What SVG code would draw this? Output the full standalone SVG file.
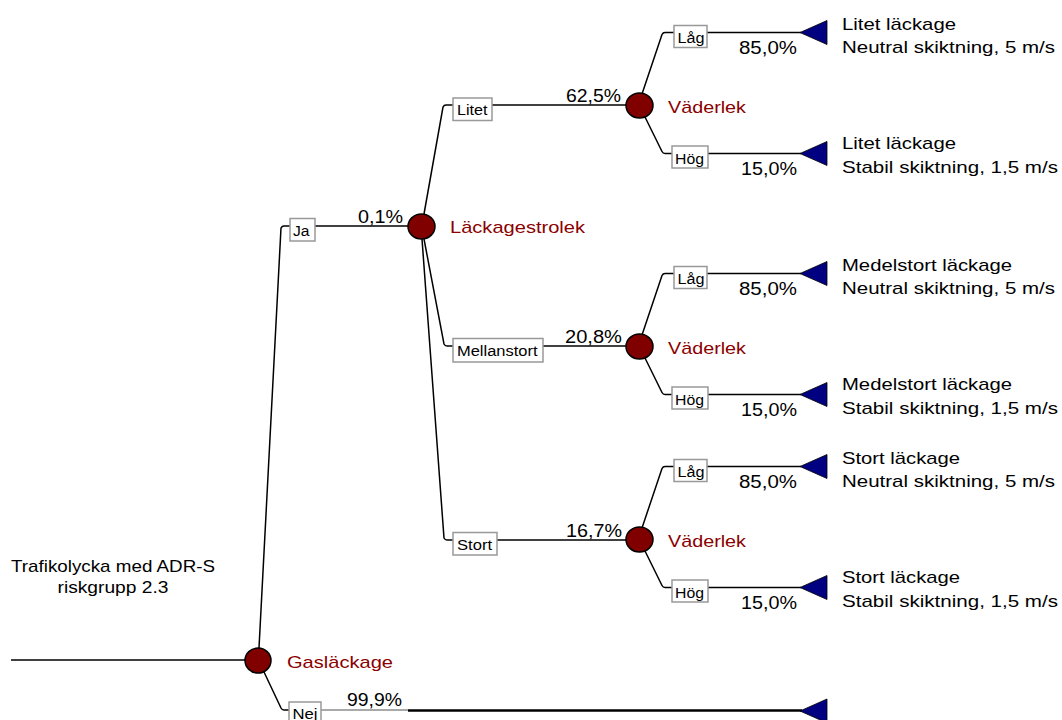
<svg xmlns="http://www.w3.org/2000/svg" width="1062" height="720" viewBox="0 0 1062 720">
<style>
.ln{fill:none;stroke:#000;stroke-width:1.5}
.box{fill:#fff;stroke:#999;stroke-width:1.5}
.ch{fill:#800000;stroke:#000;stroke-width:1.5}
.tri{fill:#000080;stroke:#000;stroke-width:0.8}
text{font-family:"Liberation Sans",Arial,sans-serif;fill:#000}
.bl{font-size:15.5px}
.pc{font-size:18px}
.nl{font-size:17px;fill:#8B0000}
.el{font-size:17px}
</style>
<rect width="1062" height="720" fill="#fff"/>
<defs>
<polygon id="tri" points="0,0 27,-12 27,12" class="tri"/>
</defs>
<g id="connectors">
<line class="ln" x1="11" y1="660" x2="245" y2="660"/>
<path class="ln" d="M259 648 L281 228 Q282 226 284 226 L290 226"/>
<line class="ln" x1="315" y1="226" x2="408" y2="226"/>
<path class="ln" d="M264 672 L281 708 Q282 710 284 710 L289 710"/>
<line x1="321" y1="710" x2="408" y2="710" stroke="#555" stroke-width="1.2"/>
<line x1="408" y1="710.5" x2="802" y2="710.5" stroke="#000" stroke-width="2.5"/>
<path class="ln" d="M424 214 L443 107 Q444 105 446 105 L453 105"/>
<line class="ln" x1="492" y1="105" x2="626" y2="105"/>
<path class="ln" d="M424 239 L444 344 Q445 346 447 346 L453 346"/>
<line class="ln" x1="543" y1="346" x2="626" y2="346"/>
<path class="ln" d="M422 239 L444 538 Q445 540 447 540 L453 540"/>
<line class="ln" x1="497" y1="540" x2="626" y2="540"/>
<path class="ln" d="M642 94 L662 34.5 Q663 32.5 665 32.5 L674 32.5"/>
<line class="ln" x1="707" y1="32.5" x2="801" y2="32.5"/>
<path class="ln" d="M645 117 L662 151.5 Q663 153.5 665 153.5 L672 153.5"/>
<line class="ln" x1="708" y1="153.5" x2="801" y2="153.5"/>
<path class="ln" d="M642 335 L662 275.5 Q663 273.5 665 273.5 L674 273.5"/>
<line class="ln" x1="707" y1="273.5" x2="801" y2="273.5"/>
<path class="ln" d="M645 358 L662 392.5 Q663 394.5 665 394.5 L672 394.5"/>
<line class="ln" x1="708" y1="394.5" x2="801" y2="394.5"/>
<path class="ln" d="M642 528 L662 468.5 Q663 466.5 665 466.5 L674 466.5"/>
<line class="ln" x1="707" y1="466.5" x2="801" y2="466.5"/>
<path class="ln" d="M645 551 L662 585.5 Q663 587.5 665 587.5 L672 587.5"/>
<line class="ln" x1="708" y1="587.5" x2="801" y2="587.5"/>
</g>
<g id="root-text">
<text class="el" x="113" y="572" text-anchor="middle" font-size="16.5" textLength="204" lengthAdjust="spacingAndGlyphs">Trafikolycka med ADR-S</text>
<text class="el" x="113" y="593" text-anchor="middle" font-size="16.5" textLength="111" lengthAdjust="spacingAndGlyphs">riskgrupp 2.3</text>
</g>
<g id="node-gaslackage">
<ellipse class="ch" cx="258" cy="660.5" rx="13" ry="12.5"/>
<text class="nl" x="287" y="668" textLength="106" lengthAdjust="spacingAndGlyphs">Gasläckage</text>
</g>
<g id="branch-ja">
<rect class="box" x="290" y="218.5" width="25" height="22.5"/>
<text class="bl" x="293" y="236" textLength="16.5" lengthAdjust="spacingAndGlyphs">Ja</text>
<text class="pc" x="403" y="222.5" text-anchor="end" textLength="45" lengthAdjust="spacingAndGlyphs">0,1%</text>
</g>
<g id="branch-nej">
<rect class="box" x="289" y="702" width="32" height="25"/>
<text class="bl" x="292.5" y="718.5" textLength="25" lengthAdjust="spacingAndGlyphs">Nej</text>
<text class="pc" x="402" y="706" text-anchor="end" textLength="55" lengthAdjust="spacingAndGlyphs">99,9%</text>
<use href="#tri" x="800" y="711"/>
</g>
<g id="node-lackagestrolek">
<ellipse class="ch" cx="421.5" cy="226.5" rx="13.5" ry="12.5"/>
<text class="nl" x="450" y="233" textLength="135" lengthAdjust="spacingAndGlyphs">Läckagestrolek</text>
</g>
<g id="branch-litet">
<rect class="box" x="453" y="98" width="39" height="22.5"/>
<text class="bl" x="457" y="115" textLength="30.5" lengthAdjust="spacingAndGlyphs">Litet</text>
<text class="pc" x="621" y="102" text-anchor="end" textLength="55" lengthAdjust="spacingAndGlyphs">62,5%</text>
</g>
<g id="branch-mellanstort">
<rect class="box" x="453" y="338.5" width="90" height="23.5"/>
<text class="bl" x="457" y="356" textLength="80.5" lengthAdjust="spacingAndGlyphs">Mellanstort</text>
<text class="pc" x="622" y="343" text-anchor="end" textLength="57" lengthAdjust="spacingAndGlyphs">20,8%</text>
</g>
<g id="branch-stort">
<rect class="box" x="453" y="532.5" width="44" height="22.5"/>
<text class="bl" x="457" y="550" textLength="35" lengthAdjust="spacingAndGlyphs">Stort</text>
<text class="pc" x="622" y="537" text-anchor="end" textLength="56" lengthAdjust="spacingAndGlyphs">16,7%</text>
</g>
<g id="node-vader-1">
<ellipse class="ch" cx="639.5" cy="105.5" rx="13.5" ry="12.5"/>
<text class="nl" x="668" y="112.5" textLength="78" lengthAdjust="spacingAndGlyphs">Väderlek</text>
<rect class="box" x="674" y="25.5" width="33" height="22"/>
<text class="bl" x="677.5" y="42.5" textLength="27" lengthAdjust="spacingAndGlyphs">Låg</text>
<text class="pc" x="797" y="53.5" text-anchor="end" textLength="58" lengthAdjust="spacingAndGlyphs">85,0%</text>
<use href="#tri" x="800" y="32.5"/>
<text class="el" x="842" y="29.5" textLength="114" lengthAdjust="spacingAndGlyphs">Litet läckage</text>
<text class="el" x="842" y="52.5" textLength="213" lengthAdjust="spacingAndGlyphs">Neutral skiktning, 5 m/s</text>
<rect class="box" x="672" y="146" width="36" height="22"/>
<text class="bl" x="675" y="163.5" textLength="29" lengthAdjust="spacingAndGlyphs">Hög</text>
<text class="pc" x="797" y="174.5" text-anchor="end" textLength="56" lengthAdjust="spacingAndGlyphs">15,0%</text>
<use href="#tri" x="800" y="153.5"/>
<text class="el" x="842" y="149" textLength="114" lengthAdjust="spacingAndGlyphs">Litet läckage</text>
<text class="el" x="842" y="173" textLength="216" lengthAdjust="spacingAndGlyphs">Stabil skiktning, 1,5 m/s</text>
</g>
<g id="node-vader-2">
<ellipse class="ch" cx="639.5" cy="346.5" rx="13.5" ry="12.5"/>
<text class="nl" x="668" y="353.5" textLength="78" lengthAdjust="spacingAndGlyphs">Väderlek</text>
<rect class="box" x="674" y="266.5" width="33" height="22"/>
<text class="bl" x="677.5" y="283.5" textLength="27" lengthAdjust="spacingAndGlyphs">Låg</text>
<text class="pc" x="797" y="294.5" text-anchor="end" textLength="58" lengthAdjust="spacingAndGlyphs">85,0%</text>
<use href="#tri" x="800" y="273.5"/>
<text class="el" x="842" y="270.5" textLength="170" lengthAdjust="spacingAndGlyphs">Medelstort läckage</text>
<text class="el" x="842" y="293.5" textLength="213" lengthAdjust="spacingAndGlyphs">Neutral skiktning, 5 m/s</text>
<rect class="box" x="672" y="387" width="36" height="22"/>
<text class="bl" x="675" y="404.5" textLength="29" lengthAdjust="spacingAndGlyphs">Hög</text>
<text class="pc" x="797" y="415.5" text-anchor="end" textLength="56" lengthAdjust="spacingAndGlyphs">15,0%</text>
<use href="#tri" x="800" y="394.5"/>
<text class="el" x="842" y="390" textLength="170" lengthAdjust="spacingAndGlyphs">Medelstort läckage</text>
<text class="el" x="842" y="414" textLength="216" lengthAdjust="spacingAndGlyphs">Stabil skiktning, 1,5 m/s</text>
</g>
<g id="node-vader-3">
<ellipse class="ch" cx="639.5" cy="539.5" rx="13.5" ry="12.5"/>
<text class="nl" x="668" y="546.5" textLength="78" lengthAdjust="spacingAndGlyphs">Väderlek</text>
<rect class="box" x="674" y="459.5" width="33" height="22"/>
<text class="bl" x="677.5" y="476.5" textLength="27" lengthAdjust="spacingAndGlyphs">Låg</text>
<text class="pc" x="797" y="487.5" text-anchor="end" textLength="58" lengthAdjust="spacingAndGlyphs">85,0%</text>
<use href="#tri" x="800" y="466.5"/>
<text class="el" x="842" y="463.5" textLength="118" lengthAdjust="spacingAndGlyphs">Stort läckage</text>
<text class="el" x="842" y="486.5" textLength="213" lengthAdjust="spacingAndGlyphs">Neutral skiktning, 5 m/s</text>
<rect class="box" x="672" y="580" width="36" height="22"/>
<text class="bl" x="675" y="597.5" textLength="29" lengthAdjust="spacingAndGlyphs">Hög</text>
<text class="pc" x="797" y="608.5" text-anchor="end" textLength="56" lengthAdjust="spacingAndGlyphs">15,0%</text>
<use href="#tri" x="800" y="587.5"/>
<text class="el" x="842" y="583" textLength="118" lengthAdjust="spacingAndGlyphs">Stort läckage</text>
<text class="el" x="842" y="607" textLength="216" lengthAdjust="spacingAndGlyphs">Stabil skiktning, 1,5 m/s</text>
</g>
</svg>
